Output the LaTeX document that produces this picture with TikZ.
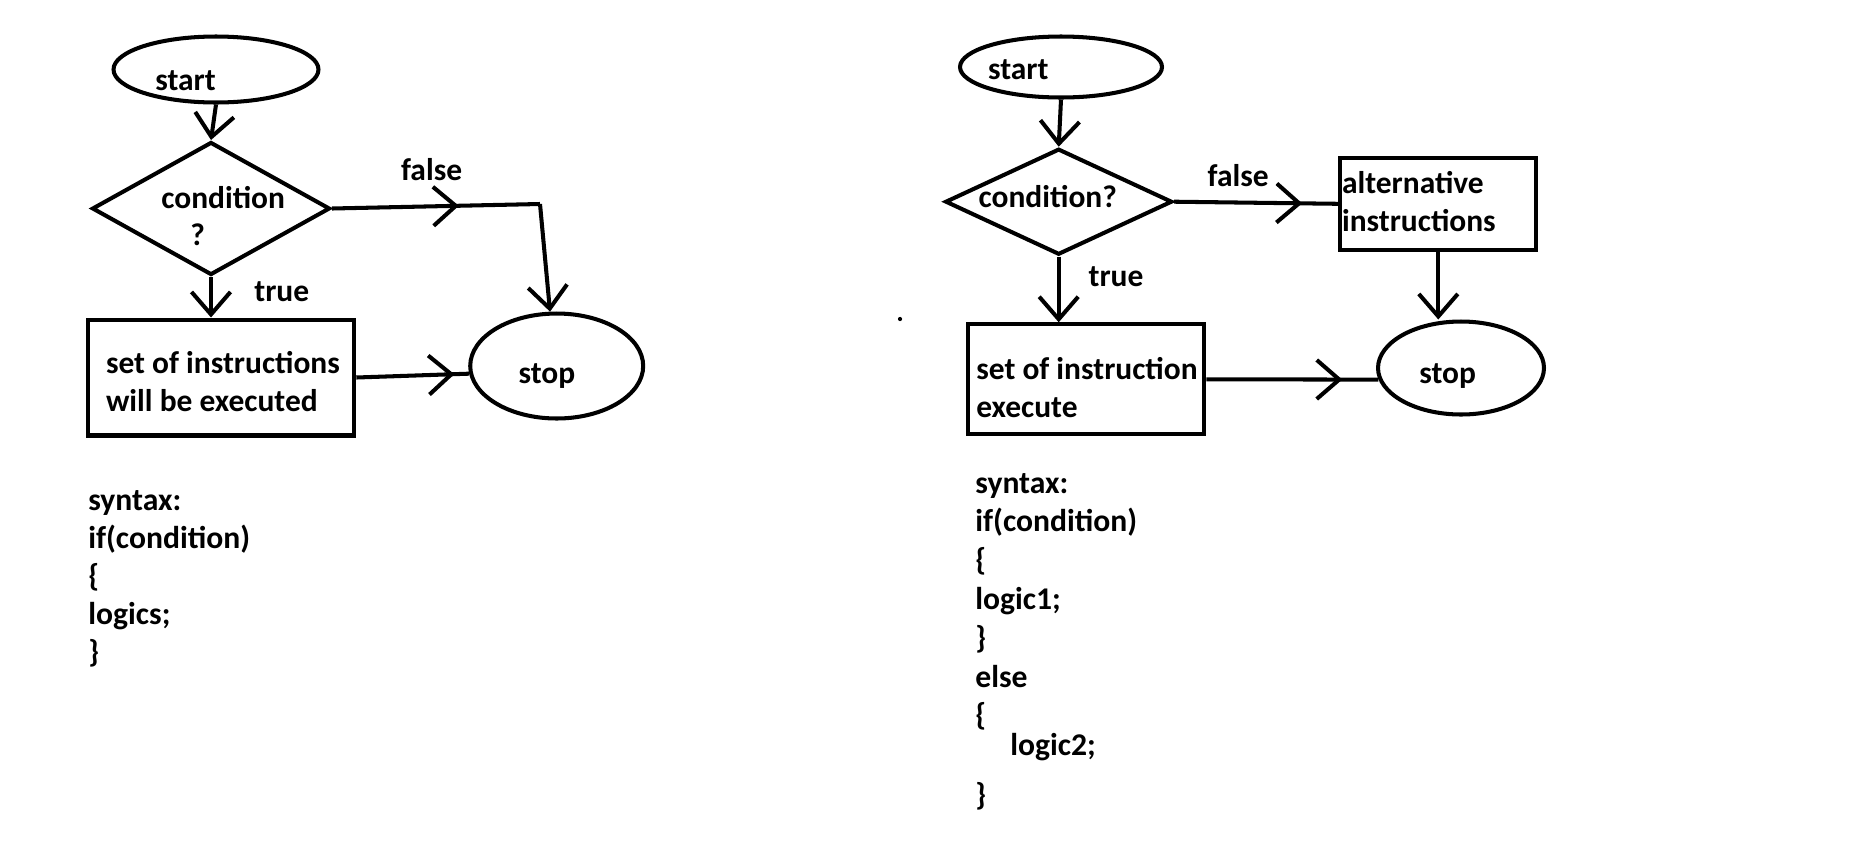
\documentclass[tikz,border=0pt]{standalone}
\usepackage{fontspec}
\setmainfont{Carlito}
\usetikzlibrary{shapes.geometric}
\usetikzlibrary{arrows.meta}
\usetikzlibrary{decorations.markings}
\newcommand{\diagFont}{\bfseries\fontsize{17.9}{22}\selectfont}
\newcommand{\codeFont}{\bfseries\fontsize{18.0}{22}\selectfont}
\tikzset{
	terminal/.style={draw, ellipse, line width=2.3pt, inner sep=0pt},
	decision/.style={draw, diamond, line width=2.3pt, inner sep=0pt},
	process/.style={draw, rectangle, line width=2.3pt, inner sep=0pt},
	txt/.style={anchor=base west, inner sep=0pt, font=\diagFont},
	code/.style={anchor=base west, inner sep=0pt, font=\codeFont},
	flow/.style={line width=2.3pt, -{Straight Barb[length=0.45cm, width=0.78cm]}},
	midflow/.style={line width=2.3pt, postaction={decorate},
		decoration={markings, mark=at position #1 with {\arrow{Straight Barb[length=0.45cm, width=0.78cm]}}}}
}

\begin{document}
\begin{tikzpicture}[x=0.02cm, y=-0.02cm]
%%%%%%%%%%%%%%%%%%
\useasboundingbox (0,0) rectangle (1865,846);

%Left chart: if
	\node[terminal, minimum width=4.1cm, minimum height=1.32cm] (start1) at (216,69.5) {};
	\node[decision, minimum width=4.76cm, minimum height=2.66cm] (cond1) at (211,208.5) {};
	\node[process, minimum width=5.32cm, minimum height=2.32cm] (box1) at (221.3,377.5) {};
	\node[terminal, minimum width=3.46cm, minimum height=2.1cm] (stop1) at (556.7,366) {};
	\coordinate (turn1) at (540,204);

	\node[txt] (start1-t) at (155,90.7) {start};
	\node[txt] (cond1-t) at (161,208.3) {condition};
	\node[txt] (cond1-q) at (190,245) {?};
	\node[txt] (false1) at (400.7,180.7) {false};
	\node[txt] (true1) at (254,301.7) {true};
	\node[txt] (box1-a) at (105.7,373.3) {set of instructions};
	\node[txt] (box1-b) at (105.7,411) {will be executed};
	\node[txt] (stop1-t) at (518.3,383.3) {stop};

% Connect left chart
	\draw[flow] (start1.south) -- (cond1.north);
	\draw[midflow=0.61] (cond1.east) -- (turn1);
	\draw[flow] (turn1) -- (stop1.97);
	\draw[flow] (cond1.south) -- (box1.north -| cond1.south);
	\draw[midflow=0.87] (box1.east) -- (stop1.185);

%Right chart: if else
	\node[terminal, minimum width=4.04cm, minimum height=1.22cm] (start2) at (1061,67) {};
	\node[decision, minimum width=4.54cm, minimum height=2.12cm] (cond2) at (1058.7,201.7) {};
	\node[process, minimum width=3.92cm, minimum height=1.84cm] (alt2) at (1438.3,203.8) {};
	\node[process, minimum width=4.72cm, minimum height=2.2cm] (box2) at (1086.3,379.3) {};
	\node[terminal, minimum width=3.32cm, minimum height=1.86cm] (stop2) at (1461,368) {};

	\node[txt] (start2-t) at (987.7,79.3) {start};
	\node[txt] (cond2-t) at (978.3,207.3) {condition?};
	\node[txt] (false2) at (1207.3,186.7) {false};
	\node[txt] (true2) at (1088.3,286) {true};
	\node[txt] (alt2-a) at (1341.7,193.3) {alternative};
	\node[txt] (alt2-b) at (1341.7,231.7) {instructions};
	\node[txt] (box2-a) at (976,379.3) {set of instruction};
	\node[txt] (box2-b) at (976,417.3) {execute};
	\node[txt] (stop2-t) at (1419,383.3) {stop};

% Connect right chart
	\draw[flow] (start2.south) -- (cond2.north);
	\draw[midflow=0.78] (cond2.east) -- (alt2.west);
	\draw[flow] (alt2.south) -- (alt2.south |- stop2.north);
	\draw[flow] (cond2.south) -- (cond2.south |- box2.north);
	\draw[midflow=0.79] (box2.east) -- (stop2.188);

%	stray dot
	\fill (900,319) circle (1.2pt);

% Syntax
	\foreach \ln [count=\i] in {syntax:, if(condition), \{, logics;, \}}
	{
		\node[code] (syn1-\i) at (88, {510+38*(\i-1)}) {\ln};
	}
	\foreach \ln [count=\i] in {syntax:, if(condition), \{, logic1;, \}, else, \{}
	{
		\node[code] (syn2-\i) at (975, {493+38.8*(\i-1)}) {\ln};
	}
	\node[code] (syn2-8) at (1010,755) {logic2;};
	\node[code] (syn2-9) at (975,805) {\}};

\end{tikzpicture}
\end{document}
